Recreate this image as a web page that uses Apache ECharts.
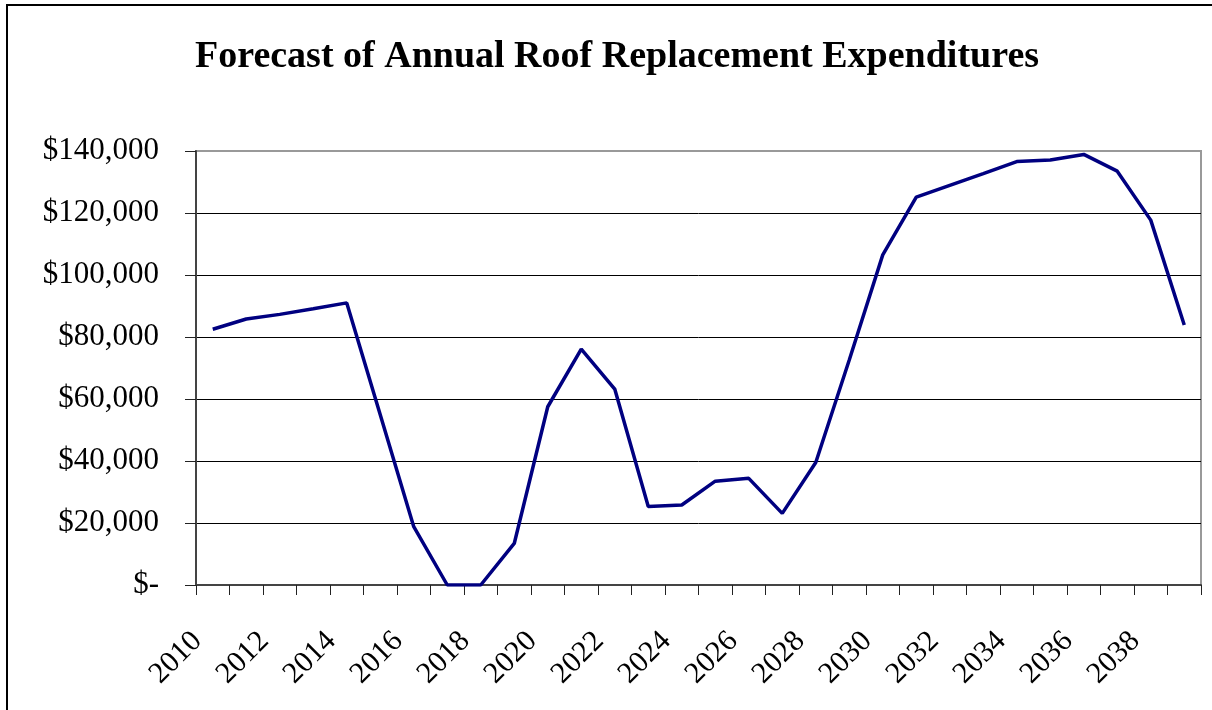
<!DOCTYPE html>
<html>
<head>
<meta charset="utf-8">
<script src="https://cdn.jsdelivr.net/npm/echarts@6/dist/echarts.min.js"></script>
<style>
  html, body { margin: 0; padding: 0; background: #fff; }
  #main { width: 1212px; height: 710px; }
</style>
</head>
<body>
<div id="main"></div>
<script>
const anos = [2010, 2011, 2012, 2013, 2014, 2015, 2016, 2017, 2018, 2019,
  2020, 2021, 2022, 2023, 2024, 2025, 2026, 2027, 2028, 2029,
  2030, 2031, 2032, 2033, 2034, 2035, 2036, 2037, 2038, 2039];

const gastos = [82500, 85800, 87300, 89100, 91000, 54900, 18800, 0, 0, 13400,
  57500, 76100, 63200, 25300, 25800, 33500, 34400, 23100, 39500, 72600,
  106500, 125100, 128900, 132700, 136600, 137100, 138900, 133500, 117700, 83900];

const fonte = "'Liberation Serif', 'Times New Roman', serif";

var myChart = echarts.init(document.getElementById('main'));
var option;

option = {
  backgroundColor: '#fff',
  animation: false,
  title: {
    text: 'Forecast of Annual Roof Replacement Expenditures',
    left: 190,
    top: 33,
    textStyle: { fontFamily: fonte, fontSize: 38, fontWeight: 'bold', color: '#000' }
  },
  graphic: [
    {
      type: 'rect',
      shape: { x: 7, y: 5, width: 1400, height: 900 },
      style: { fill: 'none', stroke: '#000', lineWidth: 2 },
      silent: true
    }
  ],
  grid: {
    left: 196,
    right: 11,
    top: 151,
    bottom: 125,
    show: true,
    borderColor: '#999',
    borderWidth: 2
  },
  xAxis: {
    type: 'category',
    boundaryGap: true,
    data: anos,
    axisLine: { lineStyle: { color: '#444', width: 2 } },
    axisTick: { show: true, interval: 0, length: 10, lineStyle: { color: '#222' } },
    axisLabel: {
      interval: 1,
      rotate: 45,
      margin: 36,
      padding: [0, 22, 0, 0],
      fontFamily: fonte,
      fontSize: 30,
      color: '#000'
    }
  },
  yAxis: {
    type: 'value',
    min: 0,
    max: 140000,
    interval: 20000,
    axisLine: { show: true, lineStyle: { color: '#444', width: 2 } },
    axisTick: { show: true, length: 11, lineStyle: { color: '#222' } },
    axisLabel: {
      margin: 37,
      fontFamily: fonte,
      fontSize: 31,
      color: '#000',
      formatter: function (v) {
        return v === 0 ? '$-' : '$' + v.toLocaleString('en-US');
      }
    },
    splitLine: {
      show: true,
      showMinLine: false,
      showMaxLine: false,
      lineStyle: { color: '#000', width: 1 }
    }
  },
  series: [
    {
      type: 'line',
      data: gastos,
      symbol: 'none',
      lineStyle: { color: '#000080', width: 3.5 }
    }
  ]
};

option && myChart.setOption(option);
</script>
</body>
</html>
